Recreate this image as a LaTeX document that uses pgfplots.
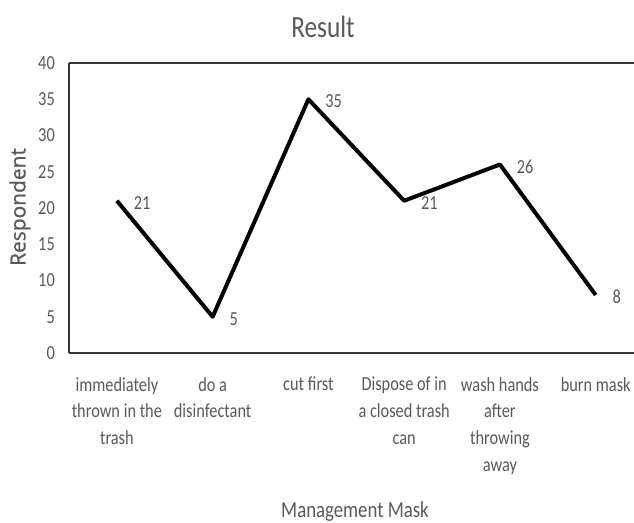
\documentclass[border=0pt]{standalone}
\usepackage{pgfplots}
\pgfplotsset{compat=1.18}
\usepackage{fontspec}
\setmainfont{Carlito}[FakeStretch=0.82]
\newfontfamily\ylabfont{Open Sans}[FakeBold=0.8]
\definecolor{txt}{RGB}{89,89,89}
\begin{document}
\begin{tikzpicture}
\begin{axis}[
  at={(0,0)}, anchor=south west,
  scale only axis, width=565bp, height=290bp,
  xmin=-0.5, xmax=5.4, ymin=0, ymax=40,
  ytick={0,5,...,40}, xtick={0,...,5},
  xticklabels={{immediately\\thrown in the\\trash},{do a\\disinfectant},{cut first},{Dispose of in\\a closed trash\\can},{wash hands\\after\\throwing\\away},{burn mask}},
  /pgf/number format/assume math mode=true,
  major tick length=0pt,
  every non boxed y axis/.style={},
  axis x line=box, axis y line=left,
  axis line style={black!80, line width=1.3bp, -},
  tick label style={font=\fontsize{20}{27}\selectfont, text=txt},
  xticklabel style={align=center, anchor=north, inner sep=0pt, yshift=-24bp},
  yticklabel style={anchor=east, inner sep=0pt, xshift=-14bp},
  clip=false,
  nodes near coords,
  every node near coord/.style={anchor=west, inner sep=0pt, xshift=15bp, yshift=-2bp, font=\fontsize{20}{24}\selectfont, text=txt},
]
\addplot[black, line width=4bp, line join=round, mark=none] coordinates {(0,21) (1,5) (2,35) (3,21) (4,26) (5,8)};
\end{axis}
\node[anchor=base, text=txt, font=\fontsize{31}{36}\selectfont, inner sep=0pt] at (254bp,315bp) {Result};
\node[anchor=base, text=txt, font=\fontsize{23}{28}\selectfont, inner sep=0pt] at (286bp,-164.7bp) {Management Mask};
\node[rotate=90, anchor=center, text=txt, font=\ylabfont\fontsize{21}{25}\selectfont, inner sep=0pt] at (-49bp,146bp) {Respondent};
\pgfresetboundingbox
\useasboundingbox (-69bp,-170bp) rectangle (565bp,353bp);
\end{tikzpicture}
\end{document}
